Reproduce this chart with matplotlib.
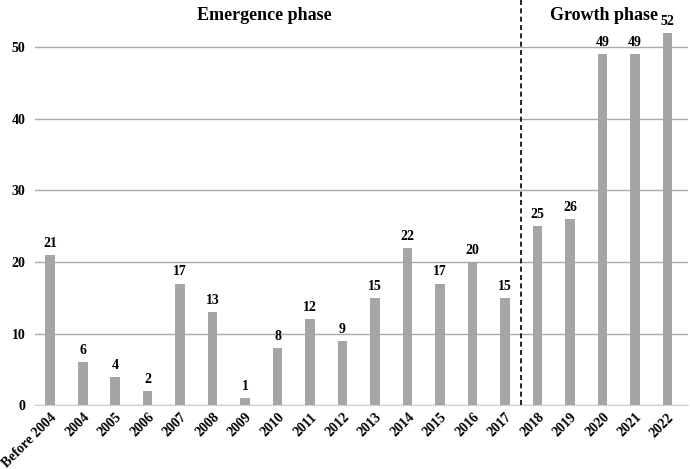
import matplotlib.pyplot as plt

years = ["Before 2004", "2004", "2005", "2006", "2007", "2008", "2009", "2010",
         "2011", "2012", "2013", "2014", "2015", "2016", "2017",
         "2018", "2019", "2020", "2021", "2022"]
counts = [21, 6, 4, 2, 17, 13, 1, 8, 12, 9, 15, 22, 17, 20, 15, 25, 26, 49, 49, 52]
phases = ["Emergence phase", "Growth phase"]
split_after = "2017"

plt.rcParams["font.family"] = ["Liberation Serif", "DejaVu Serif"]
plt.rcParams["font.weight"] = "bold"

fig = plt.figure(figsize=(6.9, 4.69), dpi=100)
ax = fig.add_axes([0.051, 0.136, 0.946, 0.864])
x = list(range(len(years)))
ax.bar(x, counts, width=0.3, color="#a5a5a5", zorder=3)
for xi, v in zip(x, counts):
    ax.text(xi, v + 0.7, str(v), ha="center", va="bottom", fontsize=10, fontweight="bold")

ax.set_ylim(0, 56.6)
ax.set_xlim(-0.46, 19.63)
ax.set_yticks(range(0, 51, 10))
ax.yaxis.grid(True, color="#aaaaaa", linewidth=1, zorder=0)
ax.set_xticks(x)
ax.set_xticklabels(years, rotation=45, ha="right", rotation_mode="anchor", fontsize=10, fontweight="bold")
ax.tick_params(axis="y", labelsize=10, length=0, pad=7)
ax.tick_params(axis="x", length=0, pad=4)
for s in ["top", "right", "left"]:
    ax.spines[s].set_visible(False)
ax.spines["bottom"].set_color("#d0d0d0")

sx = years.index(split_after) + 0.5
ax.axvline(sx, color="black", linestyle=(0, (3, 2)), linewidth=1.2, zorder=4)
ax.text(6.6, 54.4, phases[0], ha="center", va="center", fontsize=13, fontweight="bold")
ax.text(17.05, 54.4, phases[1], ha="center", va="center", fontsize=13, fontweight="bold")

fig.savefig("out.png", dpi=100)
